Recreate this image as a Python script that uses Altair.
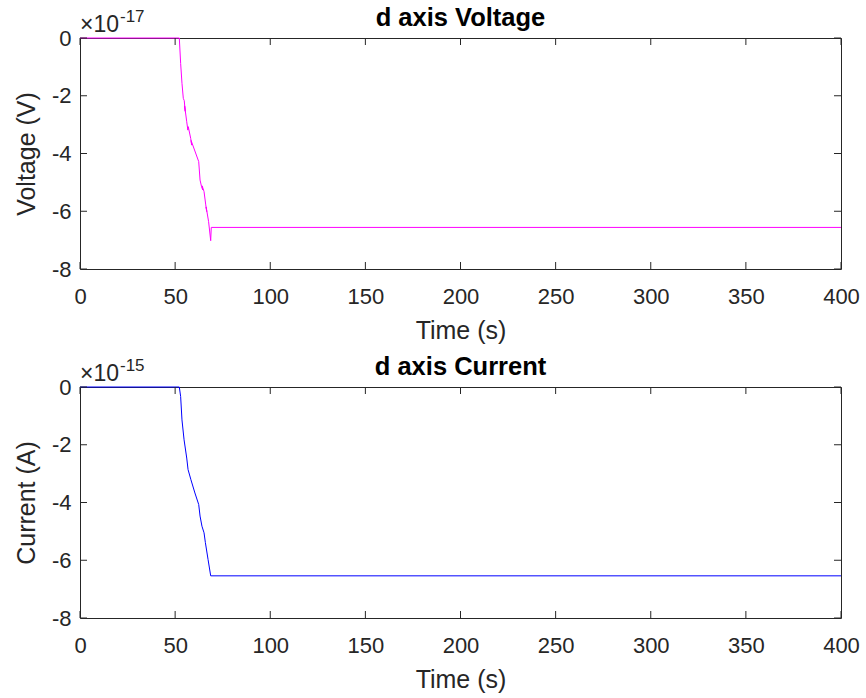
import altair as alt
import pandas as pd

# Voltage, in units of 1e-17 V
time_v = [0, 52.2, 52.9, 53.6, 54.3, 54.8, 55.3, 55.0, 56.1, 56.7, 56.9, 58.2, 58.7, 58.4,
          62.4, 63.1, 63.9, 64.5, 64.2, 65.2, 66.1, 66.6, 66.3, 67.6, 68.7, 69.0, 400]
volt = [0, 0, -0.88, -1.57, -2.09, -2.17, -2.54, -2.35, -2.90, -3.19, -3.07, -3.48, -3.71, -3.55,
        -4.28, -4.92, -5.15, -5.26, -5.12, -5.32, -5.78, -6.01, -5.85, -6.36, -7.02, -6.56, -6.56]

# Current, in units of 1e-15 A
time_i = [0, 52.2, 52.9, 53.6, 54.7, 56.1, 56.8, 58.3, 60.4, 62.4, 63.1, 64.1, 65.2, 65.9,
          67.3, 68.7, 400]
curr = [0, 0, -0.33, -1.14, -1.83, -2.46, -2.86, -3.21, -3.67, -4.07, -4.47, -4.82, -5.05,
        -5.39, -5.97, -6.54, -6.54]

x_ticks = [0, 50, 100, 150, 200, 250, 300, 350, 400]
y_ticks = [-8, -6, -4, -2, 0]

FONT = "Liberation Sans"
AX = "#262626"
TICK = 7
W, H = 761, 231


def panel(t, y, color, title, ytitle, exponent):
    df = pd.DataFrame({"t": t, "y": y, "o": list(range(len(t)))})
    xt = pd.DataFrame({"t": x_ticks})
    yt = pd.DataFrame({"y": y_ticks})
    xs = alt.Scale(domain=[0, 400], nice=False, zero=False)
    ys = alt.Scale(domain=[-8, 0], nice=False, zero=False)
    bottom = alt.Axis(orient="bottom", values=x_ticks, ticks=False, labelFlush=False,
                      domain=False, grid=False, labelPadding=17, title="Time (s)",
                      labelFont=FONT, labelFontSize=22, labelColor=AX,
                      titleFont=FONT, titleFontSize=25, titleFontWeight="normal",
                      titleColor=AX, titlePadding=11)
    left = alt.Axis(orient="left", values=y_ticks, ticks=False, labelFlush=False,
                    domain=False, grid=False, labelPadding=9, title=ytitle,
                    labelExpr="'' + datum.value",
                    labelFont=FONT, labelFontSize=22, labelColor=AX,
                    titleFont=FONT, titleFontSize=25, titleFontWeight="normal",
                    titleColor=AX, titlePadding=12)
    line = alt.Chart(df).mark_line(color=color, strokeWidth=1).encode(
        x=alt.X("t:Q", scale=xs, axis=bottom, title="Time (s)"),
        y=alt.Y("y:Q", scale=ys, axis=left, title=ytitle),
        order="o:Q",
    )
    tick_b = alt.Chart(xt).mark_rule(color=AX, strokeWidth=1).encode(
        x=alt.X("t:Q", scale=xs, axis=bottom, title="Time (s)"),
        y=alt.value(H - TICK), y2=alt.value(H))
    tick_t = alt.Chart(xt).mark_rule(color=AX, strokeWidth=1).encode(
        x=alt.X("t:Q", scale=xs, axis=bottom, title="Time (s)"),
        y=alt.value(0), y2=alt.value(TICK))
    tick_l = alt.Chart(yt).mark_rule(color=AX, strokeWidth=1).encode(
        y=alt.Y("y:Q", scale=ys, axis=left, title=ytitle),
        x=alt.value(0), x2=alt.value(TICK))
    tick_r = alt.Chart(yt).mark_rule(color=AX, strokeWidth=1).encode(
        y=alt.Y("y:Q", scale=ys, axis=left, title=ytitle),
        x=alt.value(W - TICK), x2=alt.value(W))
    one = pd.DataFrame({"a": [0]})
    title_txt = alt.Chart(one).mark_text(text=title, font=FONT, fontSize=25.5, fontWeight="bold",
                                         color="black", align="center",
                                         baseline="alphabetic").encode(
        x=alt.value(W / 2), y=alt.value(-12))
    base_txt = alt.Chart(one).mark_text(text="\u00d710", font=FONT, fontSize=23, color=AX,
                                        align="left", baseline="alphabetic").encode(
        x=alt.value(0), y=alt.value(-6))
    exp_txt = alt.Chart(one).mark_text(text=exponent, font=FONT, fontSize=17, color=AX,
                                       align="left", baseline="alphabetic").encode(
        x=alt.value(40), y=alt.value(-16))
    return alt.layer(line, tick_b, tick_t, tick_l, tick_r, title_txt, base_txt, exp_txt).properties(
        width=W, height=H,
    )


p1 = panel(time_v, volt, "#ff00ff", "d axis Voltage", "Voltage (V)", "-17")
p2 = panel(time_i, curr, "#0000ff", "d axis Current", "Current (A)", "-15")

chart = alt.vconcat(p1, p2, spacing=118, bounds="flush").properties(
    padding={"left": 13, "top": 5, "right": 0, "bottom": 0},
    background="white",
).configure_view(stroke=AX, strokeWidth=1)

chart.save("out.html", embed_options={"renderer": "svg", "actions": False})
